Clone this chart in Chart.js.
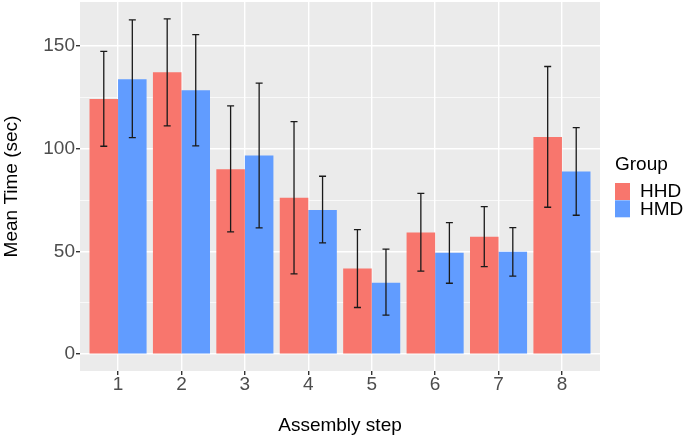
<!DOCTYPE html>
<html>
<head>
<meta charset="utf-8">
<script src="https://cdn.jsdelivr.net/npm/chart.js@4.4.1/dist/chart.umd.min.js"></script>
<style>
  body { margin: 0; background: #fff; }
  canvas { display: block; }
</style>
</head>
<body>
<canvas id="chart" width="685" height="437"></canvas>
<script>
// assembly steps and group means (sec), with error bar limits
const steps = ['1', '2', '3', '4', '5', '6', '7', '8'];
const groups = ['HHD', 'HMD'];
const hhdMean = [124.2, 137.2, 90.0, 76.1, 41.7, 59.2, 57.1, 105.7];
const hhdLow  = [101.2, 111.1, 59.5, 39.1, 22.7, 40.4, 42.6, 71.5];
const hhdHigh = [147.4, 163.2, 120.8, 113.2, 60.6, 78.3, 71.8, 140.0];
const hmdMean = [133.8, 128.5, 96.7, 70.2, 34.7, 49.3, 49.8, 88.9];
const hmdLow  = [105.4, 101.4, 61.5, 54.2, 19.0, 34.5, 38.0, 67.6];
const hmdHigh = [162.7, 155.5, 131.9, 86.6, 51.1, 64.0, 61.6, 110.3];
const yTicks = [0, 25, 50, 75, 100, 125, 150];

const FONT = 'Liberation Sans, Arial, sans-serif';

function points(vals) {
  return vals.map((v, i) => ({ x: i + 1, y: v }));
}

// grey panel behind the plot area
const panelBg = {
  id: 'panelBg',
  beforeDraw(chart) {
    const a = chart.chartArea;
    const ctx = chart.ctx;
    ctx.save();
    ctx.fillStyle = '#EBEBEB';
    ctx.fillRect(a.left, a.top, a.right - a.left, a.bottom - a.top);
    ctx.restore();
  }
};

// error bars from the low/high arrays
const errorBars = {
  id: 'errorBars',
  afterDatasetsDraw(chart) {
    const ctx = chart.ctx;
    const y = chart.scales.y;
    ctx.save();
    ctx.strokeStyle = '#1a1a1a';
    ctx.lineWidth = 1.3;
    chart.data.datasets.forEach((ds, di) => {
      const meta = chart.getDatasetMeta(di);
      meta.data.forEach((bar, i) => {
        const top = y.getPixelForValue(ds.errHigh[i]);
        const bot = y.getPixelForValue(ds.errLow[i]);
        const half = 3.5;
        ctx.beginPath();
        ctx.moveTo(bar.x, top); ctx.lineTo(bar.x, bot);
        ctx.moveTo(bar.x - half, top); ctx.lineTo(bar.x + half, top);
        ctx.moveTo(bar.x - half, bot); ctx.lineTo(bar.x + half, bot);
        ctx.stroke();
      });
    });
    ctx.restore();
  }
};

// ggplot-like legend on the right
const sideLegend = {
  id: 'sideLegend',
  afterDraw(chart) {
    const ctx = chart.ctx;
    ctx.save();
    ctx.fillStyle = '#000';
    ctx.font = '19px ' + FONT;
    ctx.textBaseline = 'alphabetic';
    ctx.fillText('Group', 615, 170);
    chart.data.datasets.forEach((ds, i) => {
      const top = 183 + i * 17.3;
      ctx.fillStyle = ds.backgroundColor;
      ctx.fillRect(615, top, 15, 17);
      ctx.fillStyle = '#000';
      ctx.textBaseline = 'middle';
      ctx.fillText(ds.label, 640, top + 9);
    });
    ctx.restore();
  }
};

new Chart(document.getElementById('chart'), {
  type: 'bar',
  data: {
    datasets: [
      { label: groups[0], data: points(hhdMean), errLow: hhdLow, errHigh: hhdHigh,
        backgroundColor: '#F8766D' },
      { label: groups[1], data: points(hmdMean), errLow: hmdLow, errHigh: hmdHigh,
        backgroundColor: '#619CFF' }
    ]
  },
  options: {
    responsive: false,
    animation: false,
    layout: { padding: { top: 2, right: 85, left: 0, bottom: 0 } },
    datasets: { bar: { categoryPercentage: 0.9, barPercentage: 1.0 } },
    plugins: { legend: { display: false }, tooltip: { enabled: false } },
    scales: {
      x: {
        type: 'linear',
        offset: false,
        min: 0.4,
        max: 8.6,
        afterBuildTicks(scale) { scale.ticks = steps.map((s, i) => ({ value: i + 1 })); },
        afterFit(scale) {
          scale.height = 66;
          scale.paddingLeft = 0;
          scale.paddingRight = 0;
        },
        ticks: {
          callback: (v, i) => steps[i],
          color: '#4D4D4D',
          font: { family: FONT, size: 19, lineHeight: 1 },
          padding: 0,
          maxRotation: 0
        },
        grid: { offset: false, color: '#FFFFFF', lineWidth: 1.4, tickLength: 4, tickColor: '#333333' },
        border: { display: false },
        title: {
          display: true,
          text: 'Assembly step',
          color: '#000',
          font: { family: FONT, size: 19 },
          padding: { top: 1, bottom: 0 }
        }
      },
      y: {
        min: -8.2,
        max: 171.4,
        afterBuildTicks(scale) { scale.ticks = yTicks.map(v => ({ value: v })); },
        afterFit(scale) {
          scale.width = 80;
          scale.paddingTop = 0;
          scale.paddingBottom = 0;
        },
        ticks: {
          callback: v => (v % 50 === 0 ? v : ''),
          color: '#4D4D4D',
          font: { family: FONT, size: 19 },
          padding: 1
        },
        grid: {
          color: '#FFFFFF',
          lineWidth: c => (c.tick && c.tick.value % 50 === 0 ? 1.4 : 0.7),
          tickLength: 4,
          tickColor: c => (c.tick && c.tick.value % 50 === 0 ? '#333333' : 'rgba(0,0,0,0)')
        },
        border: { display: false },
        title: {
          display: true,
          text: 'Mean Time (sec)',
          color: '#000',
          font: { family: FONT, size: 19 },
          padding: { top: 0, bottom: 0 }
        }
      }
    }
  },
  plugins: [panelBg, errorBars, sideLegend]
});
</script>
</body>
</html>
